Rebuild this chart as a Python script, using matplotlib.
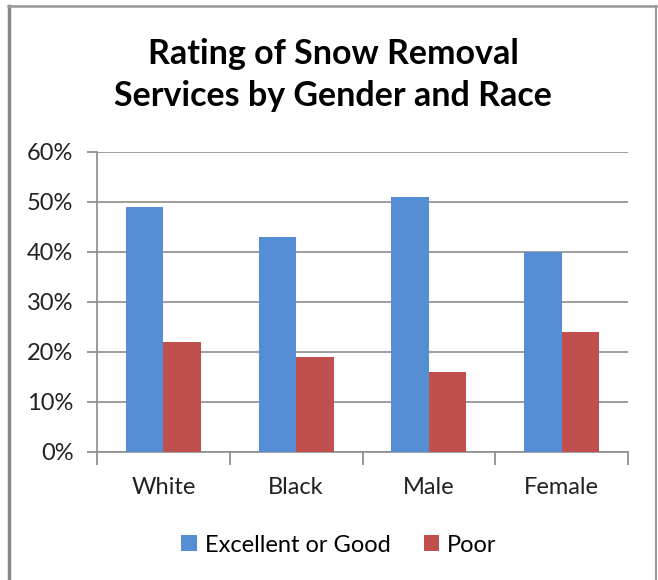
import matplotlib
matplotlib.use("Agg")
import matplotlib.pyplot as plt
import numpy as np
from matplotlib.lines import Line2D
from matplotlib.patches import Patch

categories = ["White", "Black", "Male", "Female"]
excellent_good = [49, 43, 51, 40]
poor = [22, 19, 16, 24]
series_names = ["Excellent or Good", "Poor"]
yticks = [0, 10, 20, 30, 40, 50, 60]

plt.rcParams['font.family'] = ['Lato', 'DejaVu Sans']

W, H = 658, 580
fig = plt.figure(figsize=(W/100, H/100), dpi=100)
fig.patch.set_facecolor('white')

ax = fig.add_axes([97/W, (H-452)/H, (628-97)/W, 300/H])
x = np.arange(len(categories))
bw = 0.2825
blue = '#558ED5'
red = '#C0504D'
ax.bar(x - bw/2, excellent_good, bw, color=blue, zorder=3)
ax.bar(x + bw/2, poor, bw, color=red, zorder=3)

ax.set_xlim(-0.5, len(categories) - 0.5)
ax.set_ylim(0, 60)
ax.set_yticks(yticks)
ax.set_yticklabels([f"{v}%" for v in yticks], fontsize=17, color='#222222')
ax.set_xticks(x)
ax.set_xticklabels(categories, fontsize=17, color='#222222')
ax.tick_params(axis='x', length=0, pad=18)
ax.tick_params(axis='y', length=7, color='#888888', width=1.2, pad=10)
# category boundary ticks
ax.set_xticks(np.arange(-0.5, len(categories)), minor=True)
ax.tick_params(axis='x', which='minor', length=9, color='#888888', width=1.2, direction='out')
ax.yaxis.grid(True, color='#8c8c8c', linewidth=1.2, zorder=0)
ax.set_axisbelow(True)
for s in ['top', 'right']:
    ax.spines[s].set_visible(False)
for s in ['left', 'bottom']:
    ax.spines[s].set_color('#8c8c8c')
    ax.spines[s].set_linewidth(1.2)

fig.text(333/W, 1 - 75/H, "Rating of Snow Removal\nServices by Gender and Race",
         ha='center', va='center', fontsize=24.5, fontweight='bold', linespacing=1.42)

handles = [Patch(facecolor=blue, label=series_names[0]), Patch(facecolor=red, label=series_names[1])]
fig.legend(handles=handles, loc='center', bbox_to_anchor=(339/W, 1 - 545/H), ncol=2,
           frameon=False, fontsize=17, handlelength=0.65, handleheight=0.65,
           handletextpad=0.35, columnspacing=1.4)

# outer border
fig.add_artist(Line2D([9/W, 9/W], [0, 1 - 6/H], transform=fig.transFigure, color='#888888', linewidth=2.5))
fig.add_artist(Line2D([8/W, 656/W], [1 - 6/H, 1 - 6/H], transform=fig.transFigure, color='#999999', linewidth=1.8))
fig.add_artist(Line2D([655.5/W, 655.5/W], [0, 1 - 6/H], transform=fig.transFigure, color='#999999', linewidth=1.5))

fig.savefig("out.png", dpi=100, facecolor='white')
